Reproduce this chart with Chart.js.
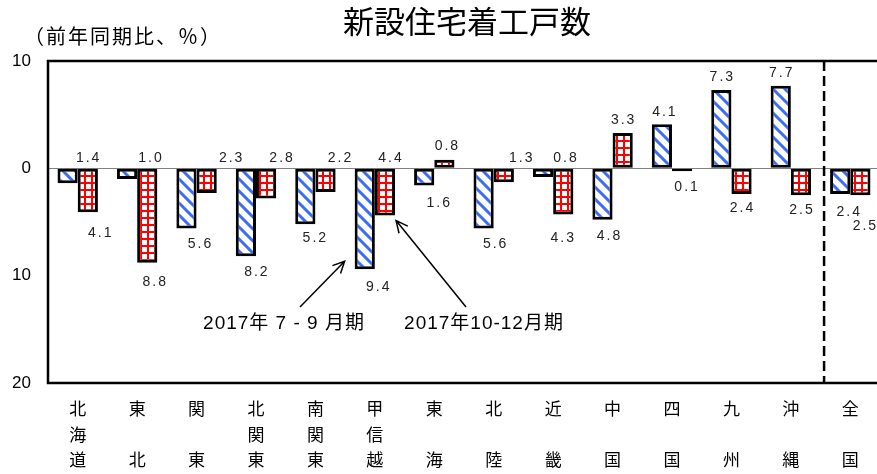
<!DOCTYPE html>
<html>
<head>
<meta charset="utf-8">
<script src="https://cdn.jsdelivr.net/npm/chart.js@4.4.0/dist/chart.umd.min.js"></script>
<style>
  html, body { margin: 0; padding: 0; background: #fff; overflow: hidden; }
  canvas { display: block; }
</style>
</head>
<body>
<canvas id="chart" width="880" height="474" style="width:880px;height:474px"></canvas>
<script>
// regions (one character per line, read top to bottom)
const categories = [
  ['北', '海', '道'], ['東', '', '北'], ['関', '', '東'], ['北', '関', '東'],
  ['南', '関', '東'], ['甲', '信', '越'], ['東', '', '海'], ['北', '', '陸'],
  ['近', '', '畿'], ['中', '', '国'], ['四', '', '国'], ['九', '', '州'],
  ['沖', '', '縄'], ['全', '', '国']
];
const seriesNames = ['2017年 7 - 9 月期', '2017年10-12月期'];
const valuesQ3 = [-1.4, -1.0, -5.6, -8.2, -5.2, -9.4, -1.6, -5.6, -0.8, -4.8, 4.1, 7.3, 7.7, -2.4];
const valuesQ4 = [-4.1, -8.8, -2.3, -2.8, -2.2, -4.4, 0.8, -1.3, -4.3, 3.3, -0.1, -2.4, -2.5, -2.5];
const yTicks = [10, 0, -10, -20];

// where each value label sits (zero: above the zero line, otherwise at the bar end)
const labelPosQ3 = [
  { zero: true, dx: 20 }, { zero: true, dx: 23 }, { dx: 13 }, { dx: 10 }, { dx: 9, dy: -2 },
  { dx: 13, dy: 2 }, { dx: 14, dy: 2 }, { dx: 11 }, { zero: true, dx: 22 }, { dx: 6 },
  { dx: 2, dy: 1 }, { dx: 0 }, { dx: 0 }, { dx: 8, dy: 2 }
];
const labelPosQ4 = [
  { dx: 12, dy: 5 }, { dx: 7, dy: 3 }, { zero: true, dx: 24 }, { zero: true, dx: 15 }, { zero: true, dx: 14 },
  { zero: true, dx: 5 }, { dx: 2, dy: -1 }, { zero: true, dx: 17 }, { dx: -1, dy: 8 }, { dx: 0 },
  { dx: 4, dy: 0 }, { dx: 0, dy: -2 }, { dx: 0, dy: -1 }, { dx: 4, dy: 15 }
];

const JP = '"Noto Sans CJK JP", "Noto Sans CJK SC", sans-serif';
const LAT = '"Liberation Sans", Arial, ' + JP;

function stripes() {
  const c = document.createElement('canvas');
  c.width = c.height = 12;
  const g = c.getContext('2d');
  g.fillStyle = '#fff';
  g.fillRect(0, 0, 12, 12);
  g.strokeStyle = '#3a6df0';
  g.lineWidth = 3;
  g.beginPath();
  g.moveTo(-3, -3); g.lineTo(15, 15);
  g.moveTo(-3, 9); g.lineTo(3, 15);
  g.moveTo(9, -3); g.lineTo(15, 3);
  g.stroke();
  return g.createPattern(c, 'repeat');
}

function grid() {
  const c = document.createElement('canvas');
  c.width = c.height = 7;
  const g = c.getContext('2d');
  g.fillStyle = '#fff';
  g.fillRect(0, 0, 7, 7);
  g.fillStyle = '#ff0000';
  g.fillRect(0, 0, 7, 2);
  g.fillRect(0, 0, 2, 7);
  return g.createPattern(c, 'repeat');
}

const frame = {
  id: 'frame',
  afterDraw(chart) {
    const { ctx, chartArea: a, scales } = chart;
    ctx.save();
    ctx.strokeStyle = '#000';
    ctx.lineWidth = 2.5;
    ctx.strokeRect(a.left, a.top, a.right - a.left + 10, a.bottom - a.top);

    // separator before 全国
    const xs = scales.x.getPixelForValue(12.5) + 3.5;
    ctx.setLineDash([10, 5]);
    ctx.beginPath();
    ctx.moveTo(xs, a.top);
    ctx.lineTo(xs, a.bottom);
    ctx.stroke();
    ctx.setLineDash([]);

    // title and unit
    ctx.fillStyle = '#000';
    ctx.textBaseline = 'middle';
    ctx.textAlign = 'center';
    ctx.font = '31px ' + JP;
    ctx.fillText('新設住宅着工戸数', 467, 21);
    ctx.textAlign = 'left';
    ctx.font = '20px ' + JP;
    ctx.letterSpacing = '2px';
    ctx.fillText('（前年同期比、％）', 24, 36);
    ctx.letterSpacing = '0px';
    ctx.restore();
  }
};

function drawArrow(ctx, x0, y0, x1, y1) {
  const ang = Math.atan2(y1 - y0, x1 - x0);
  const len = 13, spread = 0.45;
  ctx.beginPath();
  ctx.moveTo(x0, y0);
  ctx.lineTo(x1, y1);
  ctx.moveTo(x1 - len * Math.cos(ang - spread), y1 - len * Math.sin(ang - spread));
  ctx.lineTo(x1, y1);
  ctx.lineTo(x1 - len * Math.cos(ang + spread), y1 - len * Math.sin(ang + spread));
  ctx.stroke();
}

const labels = {
  id: 'labels',
  afterDatasetsDraw(chart) {
    const { ctx } = chart;
    ctx.save();
    ctx.fillStyle = '#222';
    ctx.font = '14px ' + LAT;
    ctx.letterSpacing = '2px';
    ctx.textAlign = 'center';
    ctx.textBaseline = 'middle';
    const pos = [labelPosQ3, labelPosQ4];
    chart.data.datasets.forEach((ds, d) => {
      chart.getDatasetMeta(d).data.forEach((bar, i) => {
        const v = ds.data[i];
        const p = pos[d][i];
        let y;
        if (p.zero) y = bar.base - 11;
        else if (v >= 0) y = bar.y - 13 + (p.dy || 0);
        else y = bar.y + 16 + (p.dy || 0);
        ctx.fillText(Math.abs(v).toFixed(1), bar.x + p.dx + 1, y);
      });
    });

    // series callouts pointing at 甲信越
    const b1 = chart.getDatasetMeta(0).data[5];
    const b2 = chart.getDatasetMeta(1).data[5];
    ctx.strokeStyle = '#000';
    ctx.lineWidth = 1.5;
    drawArrow(ctx, 300, 307, b1.x - b1.width / 2 - 10, b1.y - 8);
    drawArrow(ctx, 466, 307, b2.x + b2.width / 2 + 1, b2.y + 5);
    ctx.fillStyle = '#000';
    ctx.font = '19px ' + LAT;
    ctx.letterSpacing = '1px';
    ctx.fillText(seriesNames[0], 284, 324);
    ctx.fillText(seriesNames[1], 484, 324);
    ctx.restore();
  }
};

new Chart(document.getElementById('chart'), {
  type: 'bar',
  data: {
    labels: categories,
    datasets: [
      {
        label: seriesNames[0],
        data: valuesQ3,
        backgroundColor: stripes(),
        borderColor: '#000',
        borderWidth: 3,
        borderSkipped: false,
        categoryPercentage: 0.68,
        barPercentage: 1.0
      },
      {
        label: seriesNames[1],
        data: valuesQ4,
        backgroundColor: grid(),
        borderColor: '#000',
        borderWidth: 3,
        borderSkipped: false,
        minBarLength: 3,
        categoryPercentage: 0.68,
        barPercentage: 1.0
      }
    ]
  },
  options: {
    responsive: false,
    animation: false,
    layout: { padding: { top: 61, left: 0, right: 0, bottom: 0 } },
    plugins: { legend: { display: false }, tooltip: { enabled: false } },
    scales: {
      x: {
        grid: { display: false, drawTicks: false },
        border: { display: false },
        ticks: {
          color: '#000',
          font: { family: JP, size: 17, lineHeight: 1.5 },
          padding: 13,
          maxRotation: 0,
          autoSkip: false
        },
        afterFit: s => { s.height = 91; }
      },
      y: {
        min: -20,
        max: 10,
        afterBuildTicks: s => { s.ticks = yTicks.map(v => ({ value: v })); },
        ticks: {
          color: '#000',
          font: { family: LAT, size: 17 },
          padding: 17,
          callback: v => Math.abs(v)
        },
        grid: {
          drawTicks: false,
          color: c => (c.tick && c.tick.value === 0 ? '#808080' : 'rgba(0,0,0,0)'),
          lineWidth: 1
        },
        border: { display: false },
        afterFit: s => { s.width = 48; }
      }
    }
  },
  plugins: [frame, labels]
});
</script>
</body>
</html>
